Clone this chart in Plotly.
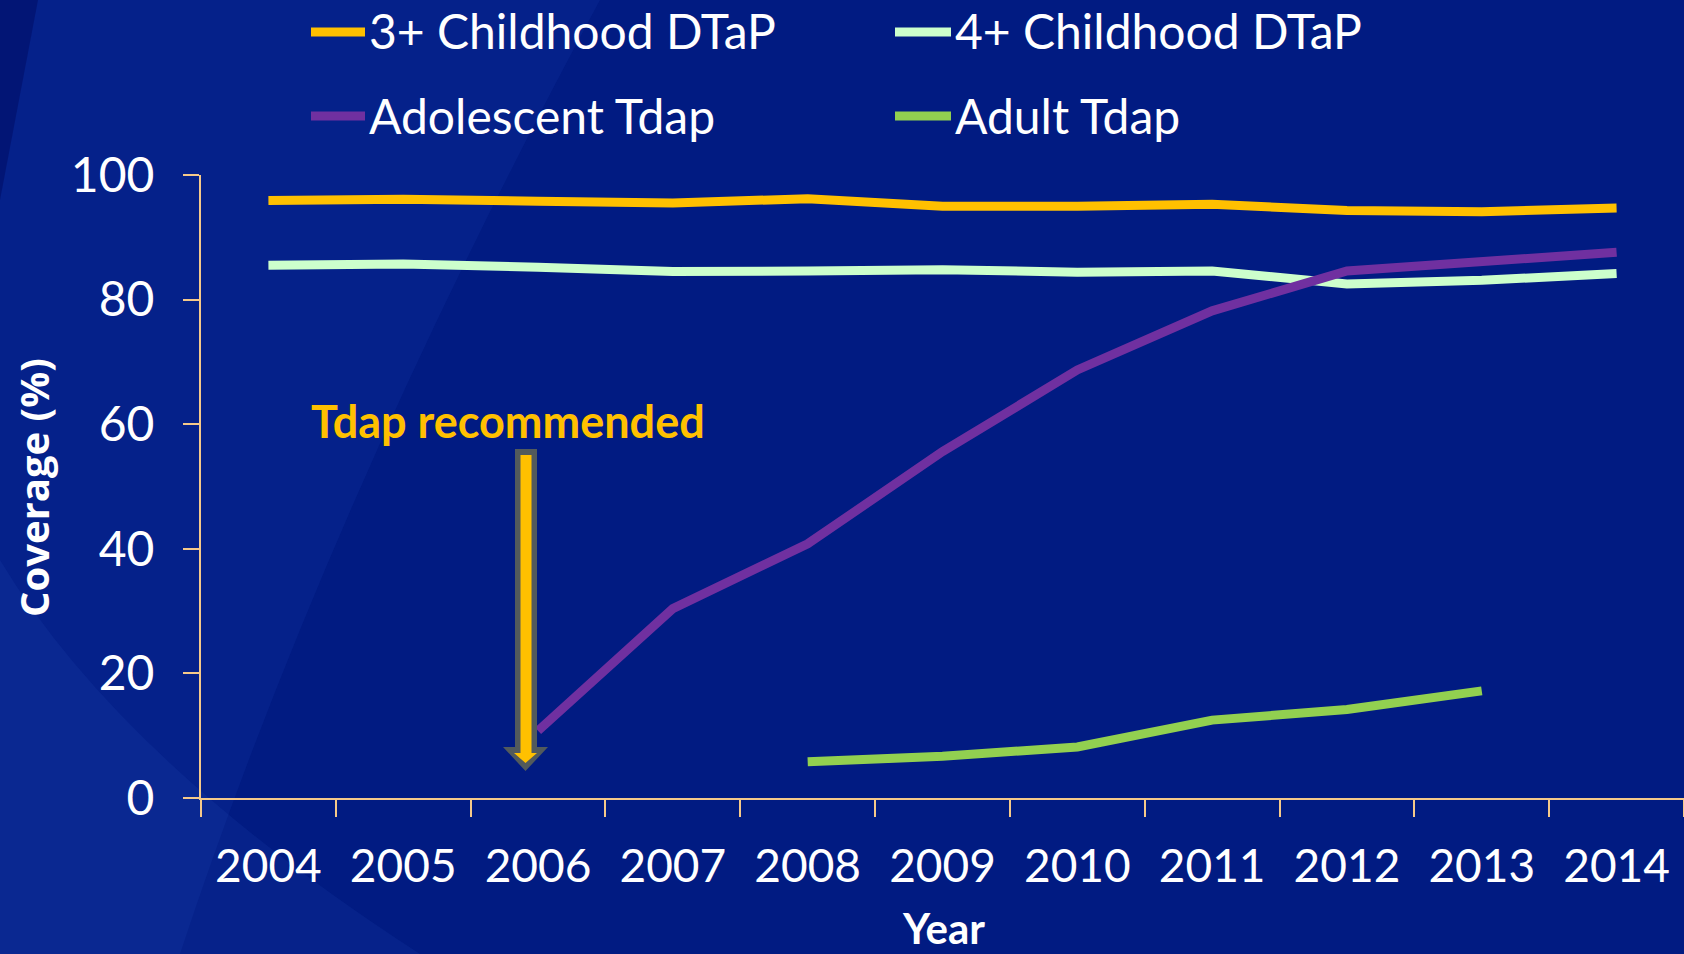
import plotly.graph_objects as go

# ---- data -------------------------------------------------------------
years = ["2004", "2005", "2006", "2007", "2008", "2009", "2010",
         "2011", "2012", "2013", "2014"]
dtap3_childhood = [95.9, 96.1, 95.8, 95.5, 96.2, 95.0, 95.0, 95.3, 94.3, 94.1, 94.7]
dtap4_childhood = [85.5, 85.7, 85.2, 84.5, 84.6, 84.8, 84.4, 84.6, 82.5, 83.1, 84.2]
tdap_adolescent = [None, None, 10.8, 30.4, 40.8, 55.6, 68.7, 78.2, 84.6, 86.0, 87.6]
tdap_adult = [None, None, None, None, 5.8, 6.7, 8.2, 12.5, 14.2, 17.2, None]
y_ticks = [0, 20, 40, 60, 80, 100]

series = [
    ("3+ Childhood DTaP", dtap3_childhood, "#FFC000"),
    ("4+ Childhood DTaP", dtap4_childhood, "#CCFFCC"),
    ("Adolescent Tdap", tdap_adolescent, "#7030A0"),
    ("Adult Tdap", tdap_adult, "#92D050"),
]

# ---- page geometry (pixels) ------------------------------------------
W, H = 1684, 954
L, R, T, B = 201, 0, 175, 156
PW, PH = W - L - R, H - T - B

def px(x):
    return (x - L) / PW

def py(y):
    return (H - B - y) / PH

AXIS_COLOR = "#F5C98A"
BG = "#011B82"

fig = go.Figure()
for name, vals, color in series:
    fig.add_trace(go.Scatter(
        x=years, y=vals, name=name, mode="lines",
        line=dict(color=color, width=9),
        connectgaps=False, showlegend=False,
    ))

shapes = []

# soft lighter sweeps across the left part of the background
shapes.append(dict(type="path", xref="paper", yref="paper", layer="below",
                   path=f"M{px(0)},{py(0)} L{px(600)},{py(0)} "
                        f"Q{px(330)},{py(500)} {px(180)},{py(954)} L{px(0)},{py(954)} Z",
                   fillcolor="rgba(40,80,190,0.13)", line=dict(width=0)))
shapes.append(dict(type="path", xref="paper", yref="paper", layer="below",
                   path=f"M{px(0)},{py(560)} Q{px(120)},{py(760)} {px(420)},{py(954)} "
                        f"L{px(0)},{py(954)} Z",
                   fillcolor="rgba(50,90,200,0.12)", line=dict(width=0)))
shapes.append(dict(type="path", xref="paper", yref="paper", layer="below",
                   path=f"M{px(0)},{py(0)} L{px(38)},{py(0)} L{px(0)},{py(200)} Z",
                   fillcolor="rgba(0,12,100,0.55)", line=dict(width=0)))

# "Tdap recommended" block arrow: grey outline under a gold core
outer = [(515, 449), (537, 449), (537, 747), (548, 747), (525.5, 771),
         (503, 747), (515, 747)]
inner = [(520.5, 455), (531.5, 455), (531.5, 753), (537, 753), (525.5, 763),
         (514, 753), (520.5, 753)]

def poly(pts):
    return "M" + " L".join(f"{px(a)},{py(b)}" for a, b in pts) + " Z"

shapes.append(dict(type="path", xref="paper", yref="paper", path=poly(outer),
                   fillcolor="#525A5C", line=dict(width=0)))
shapes.append(dict(type="path", xref="paper", yref="paper", path=poly(inner),
                   fillcolor="#FFC000", line=dict(width=0)))

# legend swatches
legend_pos = [(311, 365, 32), (895, 951, 32), (311, 365, 116), (895, 951, 116)]
annotations = []
for (name, _, color), (x0, x1, yy) in zip(series, legend_pos):
    shapes.append(dict(type="line", xref="paper", yref="paper",
                       x0=px(x0), x1=px(x1), y0=py(yy), y1=py(yy),
                       line=dict(color=color, width=9)))
    annotations.append(dict(xref="paper", yref="paper", x=px(x1 + 2), y=py(yy - 1),
                            xanchor="left", yanchor="middle", showarrow=False,
                            text=name, font=dict(family="Lato", size=48, color="white")))

annotations.append(dict(xref="paper", yref="paper", x=px(309), y=py(421),
                        xanchor="left", yanchor="middle", showarrow=False,
                        text="<b>Tdap recommended</b>",
                        font=dict(family="Lato", size=45, color="#FFC000")))
annotations.append(dict(xref="paper", yref="paper", x=px(943), y=py(928),
                        xanchor="center", yanchor="middle", showarrow=False,
                        text="<b>Year</b>",
                        font=dict(family="Lato", size=42, color="white")))
annotations.append(dict(xref="paper", yref="paper", x=px(34), y=py(488),
                        xanchor="center", yanchor="middle", showarrow=False,
                        textangle=-90, text="<b>Coverage (%)</b>",
                        font=dict(family="Open Sans", size=40, color="white")))

fig.update_layout(
    width=W, height=H,
    margin=dict(l=L, r=R, t=T, b=B, pad=0),
    paper_bgcolor=BG, plot_bgcolor="rgba(0,0,0,0)",
    shapes=shapes, annotations=annotations,
    showlegend=False,
    font=dict(family="Lato", color="white"),
    xaxis=dict(type="category", range=[-0.5, 10.5], showgrid=False, zeroline=False,
               showline=True, linecolor=AXIS_COLOR, linewidth=2,
               ticks="outside", tickson="boundaries", ticklen=17, tickwidth=2,
               tickcolor=AXIS_COLOR, ticklabelstandoff=27,
               tickfont=dict(family="Lato", size=46, color="white")),
    yaxis=dict(range=[0, 100], tickvals=y_ticks, showgrid=False, zeroline=False,
               showline=True, linecolor=AXIS_COLOR, linewidth=2,
               ticks="outside", ticklen=16, tickwidth=2, tickcolor=AXIS_COLOR,
               ticklabelstandoff=19,
               tickfont=dict(family="Lato", size=48, color="white")),
)

fig.write_html("out.html")
